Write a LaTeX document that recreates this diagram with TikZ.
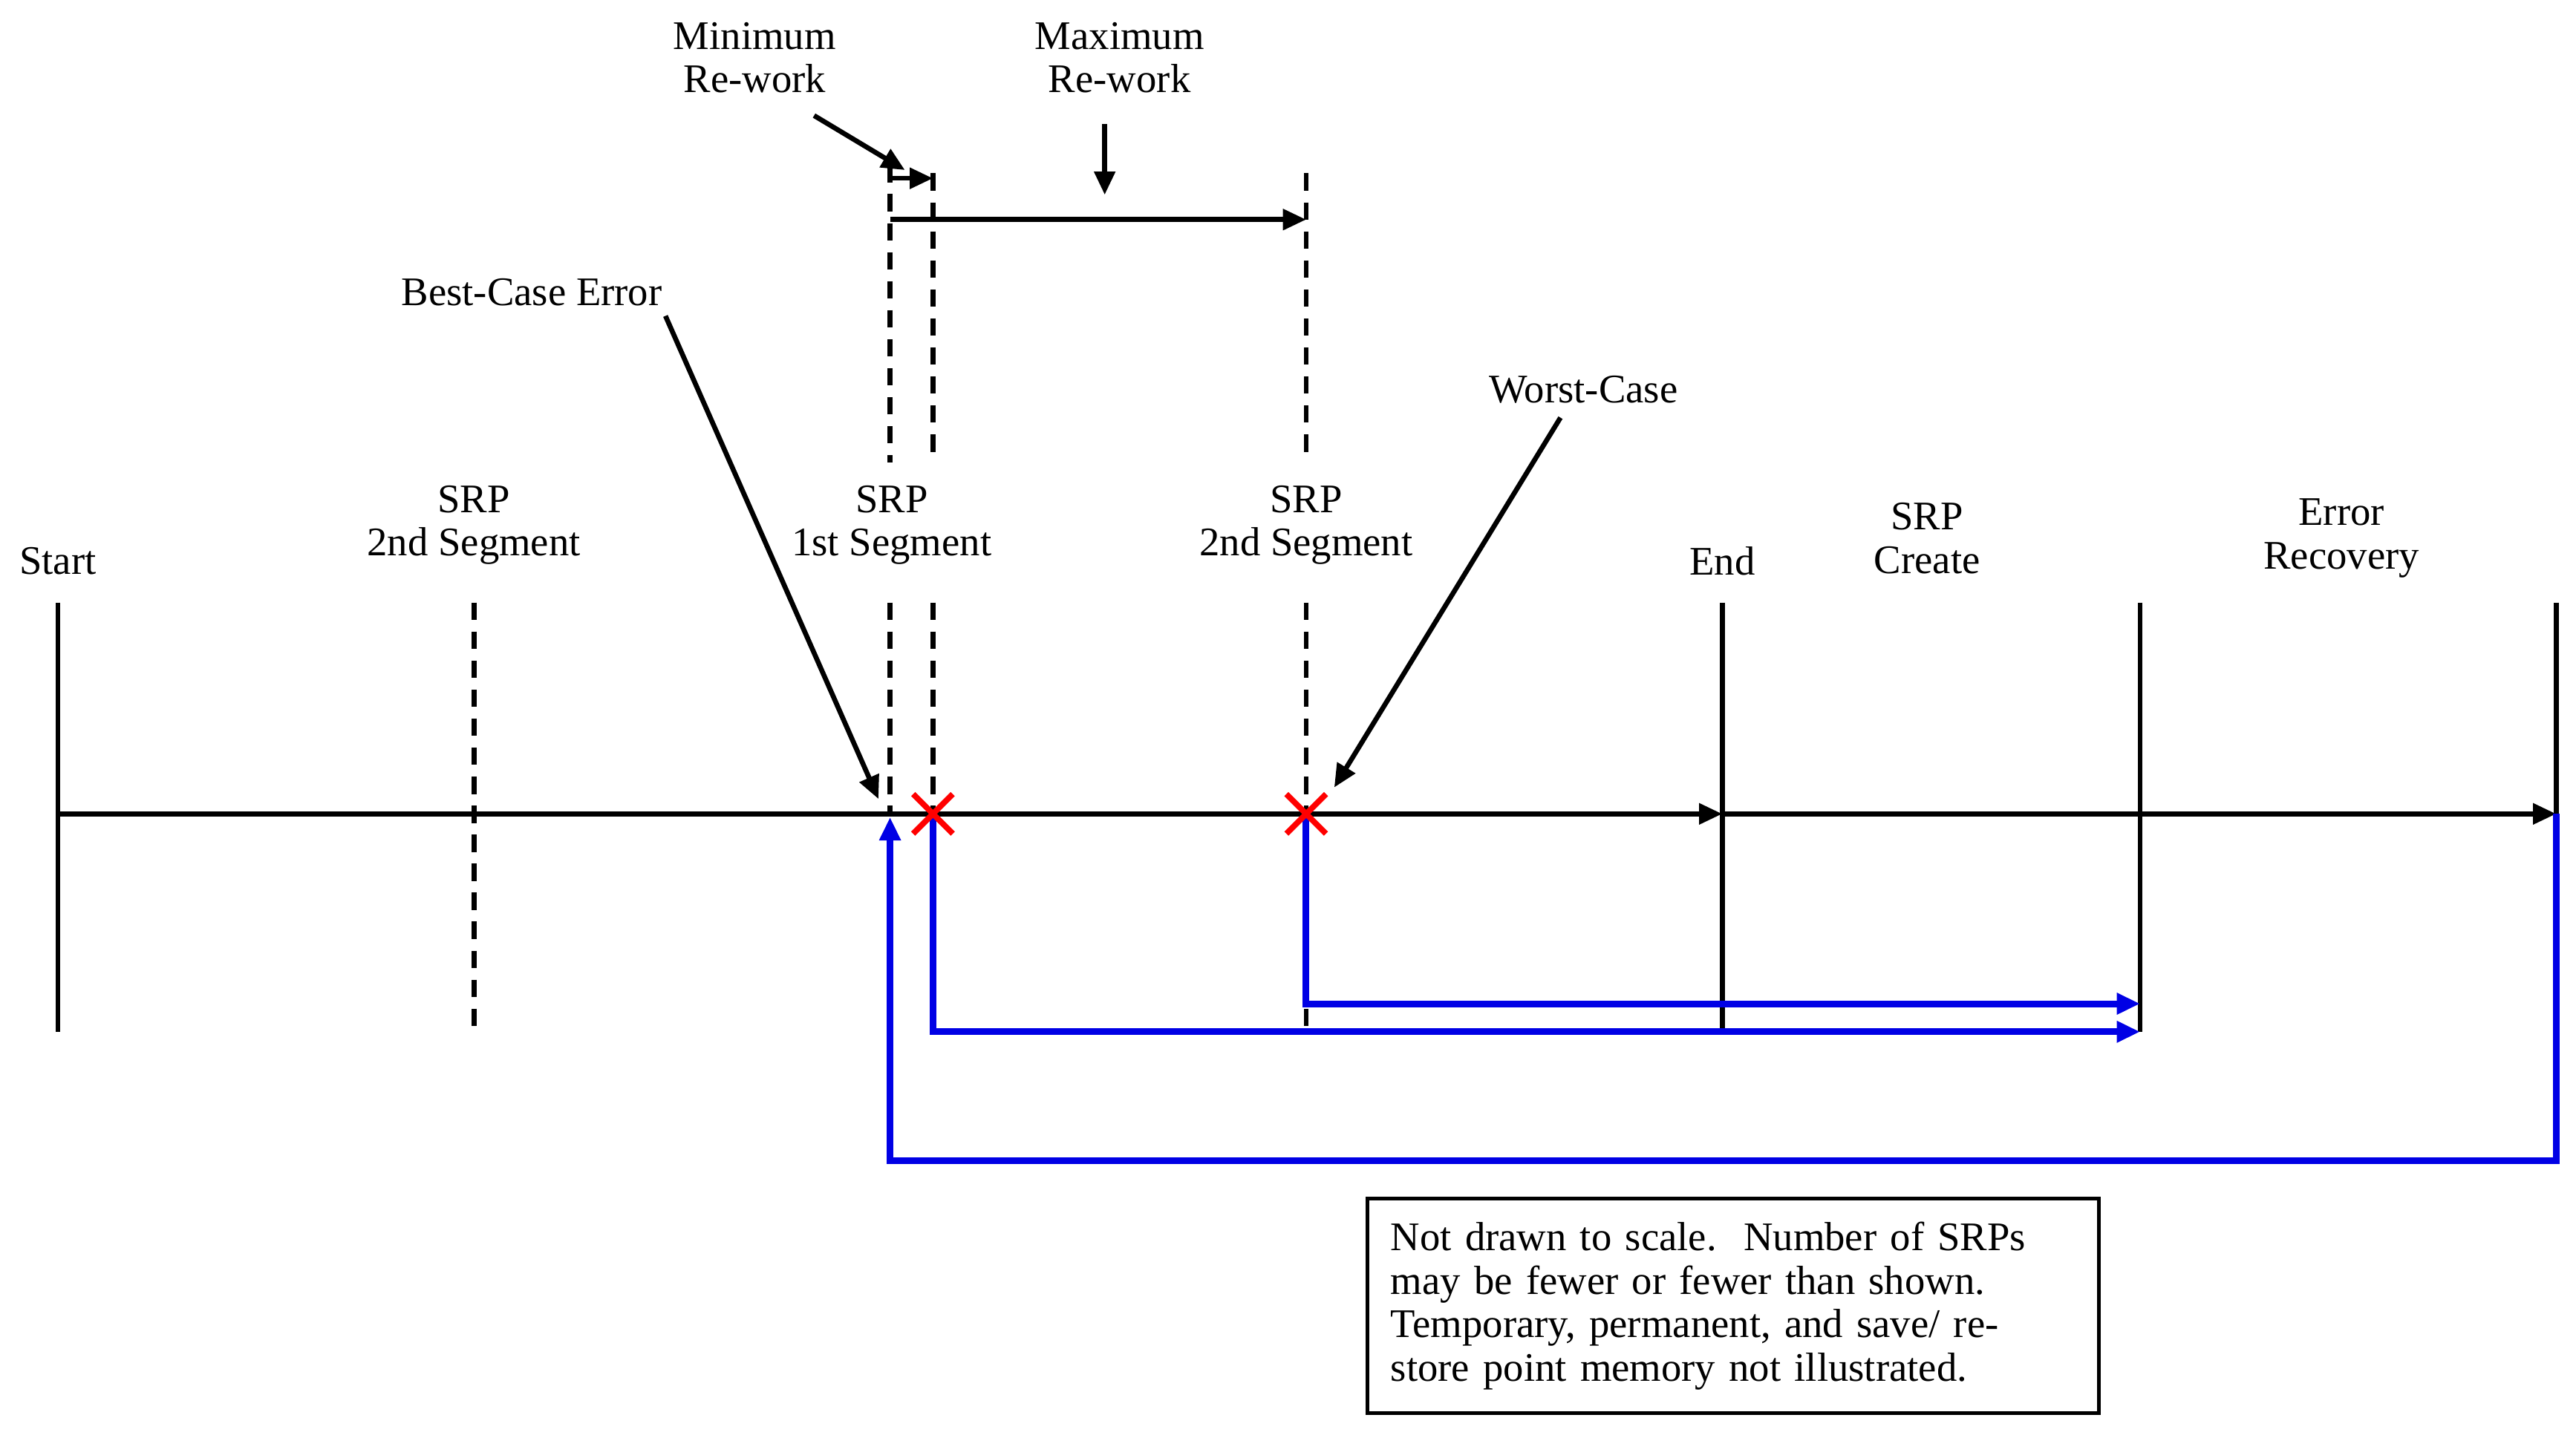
\documentclass[tikz,border=0pt]{standalone}
\usepackage{fontspec}
\setmainfont{Liberation Serif}
\usetikzlibrary{arrows.meta}
\begin{document}
\begin{tikzpicture}[x=0.02cm,y=-0.02cm,
  blk/.style={line width=1.7pt,black},
  dsh/.style={line width=1.7pt,dash pattern=on 6pt off 4pt},
  blu/.style={line width=2.3pt,blue!90!black},
  arr/.style={-{Triangle[length=8pt,width=7pt]}},
  lab/.style={font=\fontsize{14}{15}\selectfont,align=center,inner sep=1pt},
  xm/.style={red,line width=2pt}]
\useasboundingbox (0,0) rectangle (1560,869);
% labels
\node[lab] (start) at (35,340) {Start};
\node[lab] (s2a) at (287,318) {SRP\\2nd Segment};
\node[lab] (s1) at (540,318) {SRP\\1st Segment};
\node[lab] (s2b) at (791,318) {SRP\\2nd Segment};
\node[lab] (end) at (1043,340) {End};
\node[lab] (cr) at (1167,326) {SRP\\Create};
\node[lab] (er) at (1418,326) {Error\\Recovery};
\node[lab] (minrw) at (457,35) {Minimum\\Re-work};
\node[lab] (maxrw) at (678,35) {Maximum\\Re-work};
\node[lab] (best) at (322,177) {Best-Case Error};
\node[lab] (worst) at (959,236) {Worst-Case};
\node[lab,draw,line width=1.3pt,align=left,text width=8.3cm,inner sep=8pt,anchor=north west] (note) at (827,725)
 {Not drawn to scale.\ \ Number of SRPs may be fewer or fewer than shown. Temporary, permanent, and save/ restore point memory not illustrated.};
% coordinates
\coordinate (a0) at (35,493); \coordinate (a1) at (1043,493); \coordinate (a2) at (1548,493);
% verticals
\draw[blk] (35,365) -- (35,625);
\draw[blk] (1043,365) -- (1043,625);
\draw[blk] (1296,365) -- (1296,625);
\draw[blk] (1548,365) -- (1548,493);
\draw[dsh] (287,365) -- (287,625);
\draw[dsh] (539,365) -- (539,493);
\draw[dsh] (565,365) -- (565,493);
\draw[dsh] (791,365) -- (791,625);
\draw[dsh] (539,100) -- (539,280);
\draw[dsh] (565,105) -- (565,280);
\draw[dsh] (791,105) -- (791,280);
% main axis
\draw[blk,arr] (a0) -- (a1);
\draw[blk,arr] (a1) -- (a2);
% top arrows
\draw[blk,arr] (539,108) -- (565,108);
\draw[blk,arr] (539,133) -- (791,133);
\draw[blk,arr] (493,70) -- (548,103);
\draw[blk,arr] (669,75) -- (669,118);
\draw[blk,arr] (best.south east) ++(0,4) -- (532,484);
\draw[blk,arr] (945,253) -- (808,477);
% blue
\draw[blu,arr] (565,493) -- (565,625) -- (1296,625);
\draw[blu,arr] (791,493) -- (791,608) -- (1296,608);
\draw[blu,arr] (1548,493) -- (1548,703) -- (539,703) -- (539,495);
% red X
\foreach \x in {565,791}{
 \draw[xm] (\x-12,481) -- (\x+12,505);
 \draw[xm] (\x-12,505) -- (\x+12,481);}
\end{tikzpicture}
\end{document}
